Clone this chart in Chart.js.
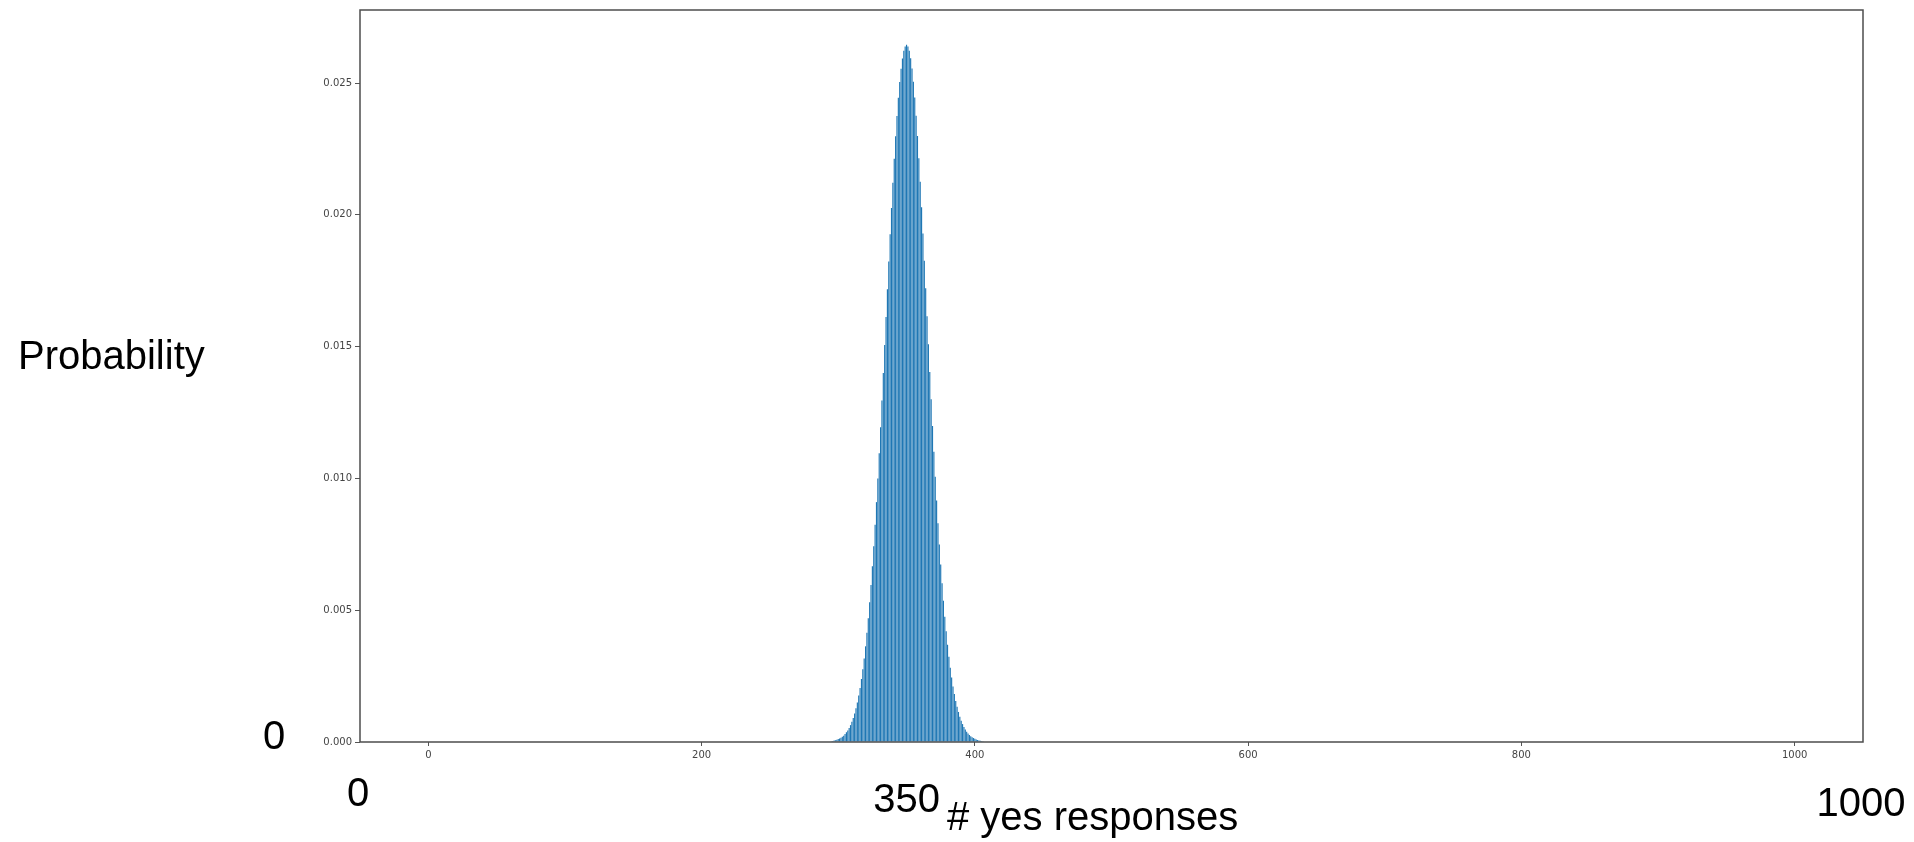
<!DOCTYPE html>
<html>
<head>
<meta charset="utf-8">
<script src="https://cdn.jsdelivr.net/npm/chart.js@4/dist/chart.umd.min.js"></script>
<style>
  html, body { margin: 0; padding: 0; background: #ffffff; }
  #wrap { width: 1914px; height: 842px; position: relative; }
  canvas { display: block; }
</style>
</head>
<body>
<div id="wrap"><canvas id="c" width="1914" height="842"></canvas></div>
<script>
// ---- data ----
const responses = [
  295,296,297,298,299,300,301,302,303,304,305,306,307,308,309,310,311,312,313,314,
  315,316,317,318,319,320,321,322,323,324,325,326,327,328,329,330,331,332,333,334,
  335,336,337,338,339,340,341,342,343,344,345,346,347,348,349,350,351,352,353,354,
  355,356,357,358,359,360,361,362,363,364,365,366,367,368,369,370,371,372,373,374,
  375,376,377,378,379,380,381,382,383,384,385,386,387,388,389,390,391,392,393,394,
  395,396,397,398,399,400,401,402,403,404,405,406
];
const probability = [
  0.000033,0.000042,0.000053,0.000066,0.000083,0.00011,0.00013,0.00016,0.00020,0.00024,
  0.00030,0.00037,0.00044,0.00053,0.00064,0.00077,0.00091,0.00108,0.00128,0.00150,
  0.00176,0.00205,0.00239,0.00276,0.00317,0.00363,0.00414,0.00469,0.00530,0.00596,
  0.00667,0.00743,0.00824,0.00910,0.01000,0.01095,0.01194,0.01296,0.01400,0.01506,
  0.01612,0.01718,0.01823,0.01926,0.02026,0.02122,0.02213,0.02298,0.02375,0.02444,
  0.02504,0.02554,0.02593,0.02622,0.02639,0.02645,0.02639,0.02622,0.02594,0.02555,
  0.02505,0.02445,0.02376,0.02299,0.02215,0.02125,0.02029,0.01929,0.01826,0.01721,
  0.01615,0.01509,0.01404,0.01300,0.01199,0.01101,0.01006,0.00916,0.00830,0.00749,
  0.00673,0.00602,0.00536,0.00475,0.00420,0.00369,0.00323,0.00282,0.00245,0.00211,
  0.00182,0.00156,0.00134,0.00114,0.00096,0.00081,0.00068,0.00057,0.00047,0.00039,
  0.00032,0.00027,0.00022,0.00018,0.00015,0.00012,0.000094,0.000075,0.000059,0.000047,
  0.000037,0.000029
];
const xTickValues = [0, 200, 400, 600, 800, 1000];
const yTickValues = [0.000, 0.005, 0.010, 0.015, 0.020, 0.025];
const xRange = [-50, 1050];
const yRange = [0, 0.02777];
const yTitle = "Probability";
const xTitle = "# yes responses";
const xMarkLabels = ["0", "350", "1000"];
const yMarkLabel = "0";

// ---- plugins ----
const framePlugin = {
  id: 'frame',
  afterDatasetsDraw(chart) {
    const {ctx, chartArea: a} = chart;
    ctx.save();
    ctx.strokeStyle = '#4d4d4d';
    ctx.lineWidth = 1.5;
    ctx.strokeRect(a.left, a.top, a.right - a.left, a.bottom - a.top);
    ctx.restore();
  }
};

const overlayPlugin = {
  id: 'overlay',
  afterDraw(chart) {
    const {ctx, chartArea: a} = chart;
    const xs = chart.scales.x;
    ctx.save();
    ctx.fillStyle = '#000000';
    ctx.font = '40px "Liberation Sans", Arial, sans-serif';
    ctx.textBaseline = 'alphabetic';
    ctx.textAlign = 'left';
    ctx.fillText(yTitle, 18, 369);
    ctx.fillText(yMarkLabel, 263, 749);
    ctx.textAlign = 'center';
    ctx.fillText(xMarkLabels[0], a.left - 2, 806);
    ctx.fillText(xMarkLabels[1], xs.getPixelForValue(350), 812);
    ctx.fillText(xMarkLabels[2], a.right - 2, 816);
    ctx.textAlign = 'left';
    ctx.fillText(xTitle, 947, 830);
    ctx.restore();
  }
};

const tickFont = {family: '"DejaVu Sans", sans-serif', size: 10};

new Chart(document.getElementById('c'), {
  type: 'bar',
  data: {
    datasets: [{
      data: responses.map((k, i) => ({x: k, y: probability[i]})),
      backgroundColor: '#1f77b4',
      borderWidth: 0,
      categoryPercentage: 0.85,
      barPercentage: 1.0
    }]
  },
  options: {
    responsive: false,
    animation: false,
    devicePixelRatio: 1,
    layout: {padding: {top: 10, right: 51, left: 0, bottom: 0}},
    plugins: {legend: {display: false}, tooltip: {enabled: false}, title: {display: false}},
    scales: {
      x: {
        type: 'linear',
        min: xRange[0],
        max: xRange[1],
        offset: false,
        grid: {display: true, offset: false, drawOnChartArea: false, drawTicks: true, tickLength: 4, color: '#555555'},
        border: {display: false},
        ticks: {font: tickFont, color: '#444444', padding: 3, maxRotation: 0, autoSkip: false,
                callback: v => String(v)},
        afterBuildTicks: s => { s.ticks = xTickValues.map(v => ({value: v})); },
        afterFit: s => { s.height = 100; }
      },
      y: {
        min: yRange[0],
        max: yRange[1],
        grid: {display: true, offset: false, drawOnChartArea: false, drawTicks: true, tickLength: 5, color: '#555555'},
        border: {display: false},
        ticks: {font: tickFont, color: '#444444', padding: 3, autoSkip: false,
                callback: v => Number(v).toFixed(3)},
        afterBuildTicks: s => { s.ticks = yTickValues.map(v => ({value: v})); },
        afterFit: s => { s.width = 360; }
      }
    }
  },
  plugins: [framePlugin, overlayPlugin]
});
</script>
</body>
</html>
